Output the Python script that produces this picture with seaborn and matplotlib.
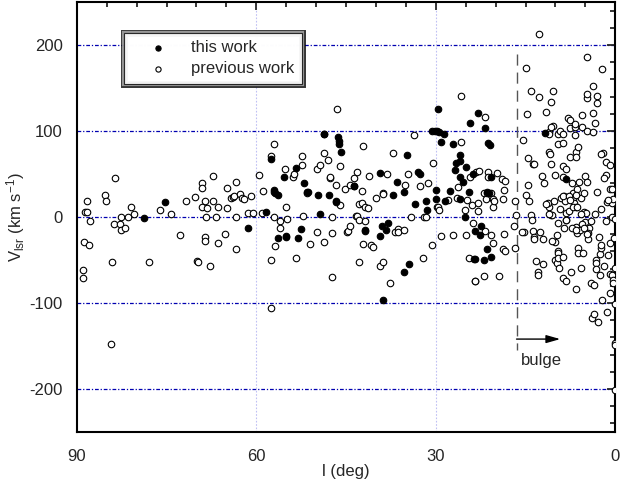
import matplotlib
matplotlib.use("Agg")
import matplotlib.pyplot as plt
import matplotlib.patheffects as pe
from matplotlib.ticker import MultipleLocator, FixedLocator
import seaborn as sns
import numpy as np
import pandas as pd

# previous work (open circles): galactic longitude l (deg), V_lsr (km/s)
prev_l = [89.0, 88.9, 88.8, 88.6, 88.3, 88.3, 87.8, 87.9, 85.3, 85.1, 83.6, 84.1, 84.3, 83.8,
          82.8, 82.6, 82.6, 81.9, 81.5, 80.9, 80.5, 77.9, 76.1, 74.2, 72.8, 71.7, 70.3, 69.9,
          69.8, 69.0, 69.0, 69.1, 68.6, 68.6, 68.6, 68.4, 68.2, 67.8, 67.3, 67.3, 66.8, 66.4,
          66.4, 65.3, 64.9, 64.9, 64.2, 63.9, 63.7, 63.4, 63.4, 63.4, 62.8, 62.4, 62.0, 61.4,
          60.9, 60.6, 59.6, 59.1, 58.8, 57.6, 57.5, 57.5, 57.0, 57.0, 57.0, 56.8, 56.1, 56.1,
          55.2, 55.0, 54.8, 53.8, 53.7, 53.4, 52.3, 52.4, 52.2, 51.6, 51.0, 49.8, 49.9, 49.4,
          48.7, 48.6, 48.0, 47.7, 47.7, 47.3, 47.3, 47.3, 46.5, 46.6, 46.0, 46.0, 45.1, 44.9,
          44.6, 44.3, 44.3, 43.7, 43.1, 43.4, 43.2, 42.9, 42.9, 42.9, 42.4, 42.3, 42.1, 42.1,
          41.9, 41.9, 41.3, 41.1, 40.8, 40.5, 40.0, 39.3, 38.9, 38.8, 38.8, 38.1, 37.6, 37.1,
          36.8, 36.3, 36.3, 35.3, 35.1, 34.6, 34.2, 33.6, 32.7, 32.2, 32.0, 31.7, 31.3, 30.7,
          30.5, 29.8, 29.7, 29.4, 29.2, 28.0, 27.1, 26.5, 26.2, 25.8, 25.8, 25.1, 25.0, 24.7,
          24.4, 24.2, 24.0, 23.8, 23.5, 23.4, 23.2, 23.0, 22.9, 22.7, 22.0, 22.0, 21.8, 21.7,
          21.6, 21.4, 21.2, 21.2, 20.8, 20.7, 20.5, 20.4, 20.4, 20.2, 19.8, 19.5, 19.0, 18.8,
          18.8, 18.6, 18.4, 18.4, 18.6, 16.9, 16.8, 16.7, 16.6,
          # bulge region
          12.8, 14.9, 14.0, 12.8, 10.4, 10.8, 11.6, 14.8, 15.4, 14.6, 13.7, 13.5, 14.6, 14.9,
          14.5, 14.1, 13.9, 15.3, 15.6, 13.8, 13.5, 13.5, 13.2, 12.9, 12.9, 12.5, 12.1, 12.1,
          11.9, 12.3, 11.1, 11.0, 11.0, 10.9, 11.0, 10.8, 11.3, 10.8, 10.5, 10.3, 10.1, 10.4,
          10.8, 10.0, 9.6, 9.6, 9.2, 10.1, 9.8, 9.6, 9.5, 9.5, 9.4, 8.8, 9.3, 9.1, 8.8, 8.7,
          8.8, 8.8, 8.5, 8.4, 8.3, 8.2, 8.3, 8.5, 8.8, 8.3, 7.9, 7.6, 7.6, 7.5, 7.8, 7.4, 7.2,
          7.0, 7.0, 6.9, 6.8, 6.8, 6.6, 6.5, 6.6, 6.6, 6.4, 6.3, 6.2, 6.5, 6.4, 6.3, 6.1, 5.9,
          5.8, 5.7, 5.6, 5.6, 5.4, 5.3, 5.2, 5.0, 4.9, 5.0, 4.7, 4.8, 4.7, 4.7, 4.8, 4.4, 4.5,
          4.1, 4.5, 4.1, 3.9, 3.7, 3.7, 3.7, 3.6, 3.5, 3.4, 3.4, 3.3, 3.3, 3.2, 3.0, 3.0, 3.0,
          2.9, 2.7, 2.6, 2.5, 2.4, 2.4, 2.4, 2.3, 2.2, 2.0, 1.8, 1.6, 1.5, 1.4, 1.3, 1.2, 0.9,
          0.9, 0.9, 0.9, 0.8, 0.6, 0.6, 0.5, 0.5, 0.3, 0.3, 0.3, 0.2, 0.1, 0.0, 0.1, 0.0, 0.0,
          0.1, 8.8, 7.8, 7.6, 6.6, 7.0, 6.4, 5.7, 5.5, 5.2, 4.7, 7.2, 6.6, 8.2, 9.6, 9.8, 10.6,
          11.5, 11.0, 6.8, 2.4, 1.9, 1.2, 1.6]
prev_v = [-62, -71, -29, 6, 6, 19, -5, -33, 25, 19, 45, -52, -148, -8,
          -8, -15, 0, -13, 0, 12, 3, -52, 8, 3, -21, 19, 23, -51,
          -52, 39, 34, 11, 19, -23, -28, 0, 10, -57, 19, 48, 0, 12,
          -30, -20, 34, 10, 22, 23, 24, 41, -37, 0, 27, 22, 21, 5,
          24, 5, 49, 5, 30, 71, -50, -106, 85, 29, 0, -34, -5, -13,
          56, 11, -2, 47, 50, -48, 71, 60, 1, 28, -32, 56, -17, 60,
          74, -29, 66, 45, 46, 0, -19, -70, 126, 37, 59, 14, 33, -17,
          -16, -11, 37, 45, 52, 1, 1, -3, -52, 15, 30, 16, -31, 82,
          -5, 12, 10, 48, -33, -35, 22, -57, -52, 28, 27, 50, -77, 74,
          -17, -14, -18, -15, 37, 50, 0, 95, 36, -48, 0, 0, 40, -33,
          63, 12, 11, 8, -22, 20, -21, 22, 35, 141, 87, 8, -21, 20,
          -48, 47, 14, -7, -75, -74, 52, 16, 7, 54, -69, 28, 116, -16,
          21, 28, 52, 46, -21, 28, 21, 12, -30, 18, 51, -69, 44, 21,
          -37, -20, 42, -40, 31, -10, 19, -36, 2,
          # bulge region
          213, 173, 146, 139, 147, 134, 122, 120, 90, 69, 62, 62, 37, 25,
          18, 2, -3, -18, -18, -16, -23, -26, -51, -64, -67, -17, -26, -55,
          40, 48, 99, 97, 76, 73, 12, 61, 16, 2, 2, 18, -29, 106,
          105, 49, 97, 85, 100, -50, -53, -39, -42, -48, -59, -46, 9, 22, 47, 59,
          96, 86, 24, 19, 56, 5, -3, -13, -71, -74, 115, 113, 103, 70, 7, -64, 40,
          21, 28, 16, 95, 105, 76, -84, -12, 11, -19, -36, -42, 70, 33, 81, 41, -15,
          22, -59, 119, 105, -42, 6, 28, 48, 5, -6, 41, 100, 138, 143, 186, -13, -19,
          -5, -26, -77, -118, 99, 121, 152, -79, -113, 109, 4, -50, -53, -60, 141, 133, 29,
          -122, -23, -67, -43, -36, -33, 9, 172, -96, 74, -57, 64, 49, 17, -110, -44, -88,
          -30, 60, 33, -66, 33, 0, 16, -67, 21, -73, -77, -24, -2, -147, -149, -201, -101,
          -59, 24, 24, 20, 25, 12, 12, 3, -8, -13, -20, -13, -15, -4, -7, -21, -28,
          15, 3, 108, 73, 45, 20, -5]

# this work (filled circles)
this_l = [78.7, 75.3, 61.4, 58.4, 57.5, 57.1, 56.9, 56.4, 56.4, 55.4, 55.0, 55.1, 53.4, 53.0,
          52.1, 52.5, 51.6, 51.4, 49.6, 49.4, 48.7, 48.7, 47.9, 46.7, 46.6, 46.3, 46.2, 46.2,
          45.9, 43.7, 43.6, 41.9, 41.8, 39.3, 39.3, 39.0, 38.9, 38.3, 37.9, 37.1, 36.5, 35.3,
          35.3, 34.8, 34.4, 33.4, 32.9, 32.7, 31.7, 31.5, 29.9, 29.9, 29.6, 30.7, 30.2, 29.8,
          29.4, 29.2, 28.6, 28.5, 27.7, 27.1, 26.8, 26.7, 26.0, 26.0, 26.0, 26.0, 25.5, 25.1,
          24.9, 24.4, 24.2, 23.8, 23.6, 23.5, 23.5, 22.9, 22.6, 22.4, 21.9, 21.7, 21.5, 21.4,
          21.2, 21.0, 20.8, 20.8, 21.1, 11.8, 8.3]
this_v = [-1, 17, -13, 6, 67, 31, 28, 25, -25, 46, -22, -23, 57, -25,
          40, -14, 29, 29, 26, 3, 97, 96, 25, 18, 17, 93, 88, 85,
          76, 36, 36, -15, -16, 51, -22, -10, -96, -15, -7, 26, 41, 29,
          -64, 72, -55, 15, 52, 50, 19, 8, 31, 21, 125, 100, 100, 100,
          99, 87, 96, 19, 30, 85, 55, 63, 65, 72, 47, 21, 41, 0,
          58, 29, 109, 50, -49, -16, -49, 121, -21, -11, -50, 103, -37, 29,
          86, 84, -47, 47, 28, 98, 44]

prev = pd.DataFrame({"l": prev_l, "v": prev_v})
this = pd.DataFrame({"l": this_l, "v": this_v})

sns.set_style("white")
plt.rcParams["font.family"] = ["Liberation Sans", "DejaVu Sans"]
plt.rcParams["mathtext.fontset"] = "custom"
plt.rcParams["mathtext.rm"] = "Liberation Sans"
plt.rcParams["mathtext.it"] = "Liberation Sans:italic"
plt.rcParams["axes.unicode_minus"] = False

fig = plt.figure(figsize=(6.24, 4.87), dpi=100)
ax = fig.add_axes([0.123, 0.113, 0.863, 0.883])

# grid lines
for yv in [-200, -100, 0, 100, 200]:
    ax.axhline(yv, color="#0000b0", lw=0.9, ls=(0, (3, 1.5, 1, 1.5)), zorder=0)
for xv in [60, 30]:
    ax.axvline(xv, color="#c0c0f4", lw=0.8, ls=(0, (1.5, 1.5)), zorder=0)

sns.scatterplot(data=prev, x="l", y="v", ax=ax, marker="o", s=22,
                facecolor="white", edgecolor="black", linewidth=0.8,
                label="previous work", zorder=3)
sns.scatterplot(data=this, x="l", y="v", ax=ax, marker="o", s=22,
                color="black", edgecolor="black", linewidth=0.8,
                label="this work", zorder=4)

# bulge marker
ax.plot([16.5, 16.5], [190, -155], color="#555555", lw=1.0,
        ls=(0, (8, 5)), zorder=2)
ax.annotate("", xy=(9.2, -142), xytext=(16.5, -142),
            arrowprops=dict(arrowstyle="-|>,head_length=0.7,head_width=0.2",
                            color="black", lw=1.0, mutation_scale=12,
                            shrinkA=0, shrinkB=0))
ax.text(12.3, -167, "bulge", ha="center", va="center", fontsize=12)

ax.set_xlim(90, 0)
ax.set_ylim(-250, 250)
ax.xaxis.set_major_locator(FixedLocator([90, 60, 30, 0]))
ax.xaxis.set_minor_locator(MultipleLocator(5))
ax.yaxis.set_major_locator(FixedLocator([-200, -100, 0, 100, 200]))
ax.yaxis.set_minor_locator(MultipleLocator(20))
ax.tick_params(which="both", direction="in", top=True, right=True,
               width=1.3, labelsize=12)
ax.tick_params(which="major", length=6)
ax.tick_params(which="minor", length=3.5)
ax.tick_params(axis="x", which="major", pad=12)
ax.tick_params(axis="y", which="major", pad=10)
for sp in ax.spines.values():
    sp.set_linewidth(1.5)
    sp.set_color("black")

ax.set_xlabel("l (deg)", fontsize=12, labelpad=0)
ax.set_ylabel(r"V$_{\rm lsr}$ (km s$^{-1}$)", fontsize=12, labelpad=2)

handles, labels = ax.get_legend_handles_labels()
leg = ax.legend(handles[::-1], labels[::-1], loc="upper left",
                bbox_to_anchor=(0.087, 0.928), borderaxespad=0,
                frameon=True, fancybox=False, edgecolor="black",
                fontsize=12, handletextpad=0.4, borderpad=0.45,
                handlelength=3.2, labelspacing=0.35, markerscale=0.8)
fr = leg.get_frame()
fr.set_linewidth(0.8)
fr.set_path_effects([pe.Stroke(linewidth=5, foreground="black"),
                     pe.Stroke(linewidth=3, foreground="#b0b0b0"),
                     pe.Normal()])

fig.savefig("out.png", dpi=100)
